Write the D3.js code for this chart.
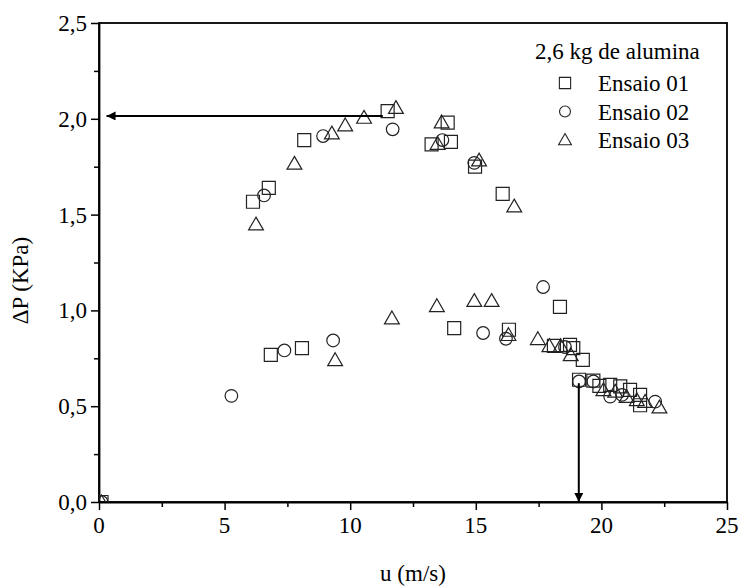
<!DOCTYPE html>
<html>
<head>
<meta charset="utf-8">
<script src="https://cdn.jsdelivr.net/npm/d3@7"></script>
</head>
<body style="margin:0">
<script>
// data: u (m/s) and pressure drop (kPa)
let ensaio01U  = [0.1, 6.13, 6.76, 8.17, 11.49, 13.24, 13.88, 14.01, 14.97, 16.07,
                  6.84, 8.08, 14.14, 16.32, 18.11, 18.35, 18.75, 18.88, 19.26, 19.11,
                  19.68, 19.92, 20.35, 20.75, 21.14, 21.54, 21.54];
let ensaio01DP = [0, 1.567, 1.64, 1.889, 2.04, 1.866, 1.98, 1.88, 1.75, 1.608,
                  0.768, 0.803, 0.908, 0.899, 0.815, 1.018, 0.82, 0.803, 0.742, 0.638,
                  0.634, 0.606, 0.611, 0.603, 0.585, 0.559, 0.505];

let ensaio02U  = [0.1, 6.57, 8.92, 11.69, 13.67, 14.94,
                  5.27, 7.38, 9.32, 15.29, 16.20, 17.68, 18.55, 19.11, 19.68, 20.35, 20.82, 22.14];
let ensaio02DP = [0, 1.60, 1.91, 1.945, 1.889, 1.77,
                  0.554, 0.791, 0.843, 0.882, 0.852, 1.122, 0.809, 0.629, 0.629, 0.55, 0.559, 0.524];

let ensaio03U  = [0.1, 6.25, 7.78, 9.27, 9.80, 10.55, 11.82, 13.48, 13.64, 15.13, 16.53,
                  9.40, 11.66, 13.45, 14.94, 15.63, 16.30, 17.47, 17.93, 18.38, 18.78,
                  20.08, 20.55, 21.0, 21.41, 21.74, 22.31];
let ensaio03DP = [0, 1.45, 1.767, 1.925, 1.967, 2.007, 2.058, 1.871, 1.983, 1.784, 1.544,
                  0.742, 0.96, 1.024, 1.051, 1.051, 0.873, 0.852, 0.815, 0.815, 0.768,
                  0.585, 0.577, 0.55, 0.533, 0.524, 0.495];

let seriesNames = ["Ensaio 01", "Ensaio 02", "Ensaio 03"];
let legendTitle = "2,6 kg de alumina";
let xTicks = [0, 5, 10, 15, 20, 25];
let yTicks = [0, 0.5, 1.0, 1.5, 2.0, 2.5];

// arrows: [u1, dp1] -> [u2, dp2]
let arrowH = [[11.3, 2.015], [0.3, 2.015]];
let arrowV = [[19.1, 0.62], [19.1, 0.0]];

let margin = {top: 23, right: 14, bottom: 84, left: 99},
    width = 741 - margin.left - margin.right,
    height = 586 - margin.top - margin.bottom;

let svg = d3.select("body")
            .append("svg")
            .attr("width", 741)
            .attr("height", 586);

// serif label helper, face set when the text is made
let label = (sel, str) => sel.append("text")
    .attr("font-family", "Liberation Serif, Times New Roman, serif")
    .attr("font-size", 23)
    .attr("fill", "#000")
    .text(str);

let g = svg.append("g")
           .attr("transform", `translate(${margin.left}, ${margin.top})`);

let xScale = d3.scaleLinear().domain([0, 25]).range([0, width]);
let yScale = d3.scaleLinear().domain([0, 2.5]).range([height, 0]);

let fmt = d => d3.format(".1f")(d).replace(".", ",");

// minor ticks
g.append("g")
    .attr("transform", `translate(0, ${height})`)
    .call(d3.axisBottom(xScale).tickValues(d3.range(2.5, 25, 5)).tickSize(5).tickFormat(""))
    .call(a => a.select(".domain").remove());
g.append("g")
    .call(d3.axisLeft(yScale).tickValues(d3.range(0.25, 2.5, 0.5)).tickSize(5).tickFormat(""))
    .call(a => a.select(".domain").remove());

// major ticks, labels drawn separately
g.append("g")
    .attr("transform", `translate(0, ${height})`)
    .call(d3.axisBottom(xScale).tickValues(xTicks).tickSize(8).tickSizeOuter(0).tickFormat(""));
g.append("g")
    .call(d3.axisLeft(yScale).tickValues(yTicks).tickSize(8).tickSizeOuter(0).tickFormat(""));

g.selectAll(".tick line").attr("stroke", "#000").attr("stroke-width", 1.5);
g.selectAll(".domain").attr("stroke-width", 1.8);

xTicks.forEach(t => {
    label(g, String(t))
        .attr("x", xScale(t)).attr("y", height + 31)
        .attr("text-anchor", "middle");
});
yTicks.forEach(t => {
    label(g, fmt(t))
        .attr("x", -12).attr("y", yScale(t) + 8)
        .attr("text-anchor", "end");
});

// frame
g.append("rect")
    .attr("width", width).attr("height", height)
    .attr("fill", "none").attr("stroke", "#000").attr("stroke-width", 1.8);

// axis titles
label(svg, "u (m/s)")
    .attr("x", margin.left + width / 2).attr("y", 581)
    .attr("text-anchor", "middle");
label(svg, "ΔP (KPa)")
    .attr("transform", `translate(28, ${margin.top + height / 2 + 18}) rotate(-90)`)
    .attr("text-anchor", "middle");

// clip for markers
let defs = svg.append("defs");
defs.append("clipPath").attr("id", "clip")
    .append("rect").attr("width", width).attr("height", height);

defs.append("marker")
    .attr("id", "head")
    .attr("viewBox", "0 0 10 10")
    .attr("refX", 10).attr("refY", 5)
    .attr("markerUnits", "userSpaceOnUse")
    .attr("markerWidth", 15).attr("markerHeight", 9)
    .attr("orient", "auto")
  .append("path")
    .attr("d", "M0,0L10,5L0,10Z")
    .attr("fill", "#000");

let symbols = [d3.symbolSquare, d3.symbolCircle, d3.symbolTriangle];
let sizes = [169, 125, 95];
let series = [
    d3.zip(ensaio01U, ensaio01DP),
    d3.zip(ensaio02U, ensaio02DP),
    d3.zip(ensaio03U, ensaio03DP)
];

let marks = g.append("g").attr("clip-path", "url(#clip)");
series.forEach((data, i) => {
    marks.selectAll(".s" + i)
        .data(data)
        .enter()
        .append("path")
            .attr("class", "s" + i)
            .attr("d", d3.symbol().type(symbols[i]).size(sizes[i]))
            .attr("transform", d => `translate(${xScale(d[0])}, ${yScale(d[1]) + (i == 2 ? 1.5 : 0)})`)
            .attr("fill", "none")
            .attr("stroke", "#222")
            .attr("stroke-width", 1.2);
});

// arrows
[arrowH, arrowV].forEach(a => {
    g.append("line")
        .attr("x1", xScale(a[0][0])).attr("y1", yScale(a[0][1]))
        .attr("x2", xScale(a[1][0])).attr("y2", yScale(a[1][1]))
        .attr("stroke", "#000").attr("stroke-width", 2)
        .attr("marker-end", "url(#head)");
});

// legend
let lg = svg.append("g").attr("transform", "translate(535, 0)");
label(lg, legendTitle).attr("x", 0).attr("y", 59);
seriesNames.forEach((name, i) => {
    let cy = 83 + i * 28.5;
    lg.append("path")
        .attr("d", d3.symbol().type(symbols[i]).size(sizes[i] * 0.75))
        .attr("transform", `translate(30, ${cy + (i == 2 ? 1 : 0)})`)
        .attr("fill", "none").attr("stroke", "#222").attr("stroke-width", 1.1);
    label(lg, name).attr("x", 63).attr("y", cy + 8);
});
</script>
</body>
</html>
